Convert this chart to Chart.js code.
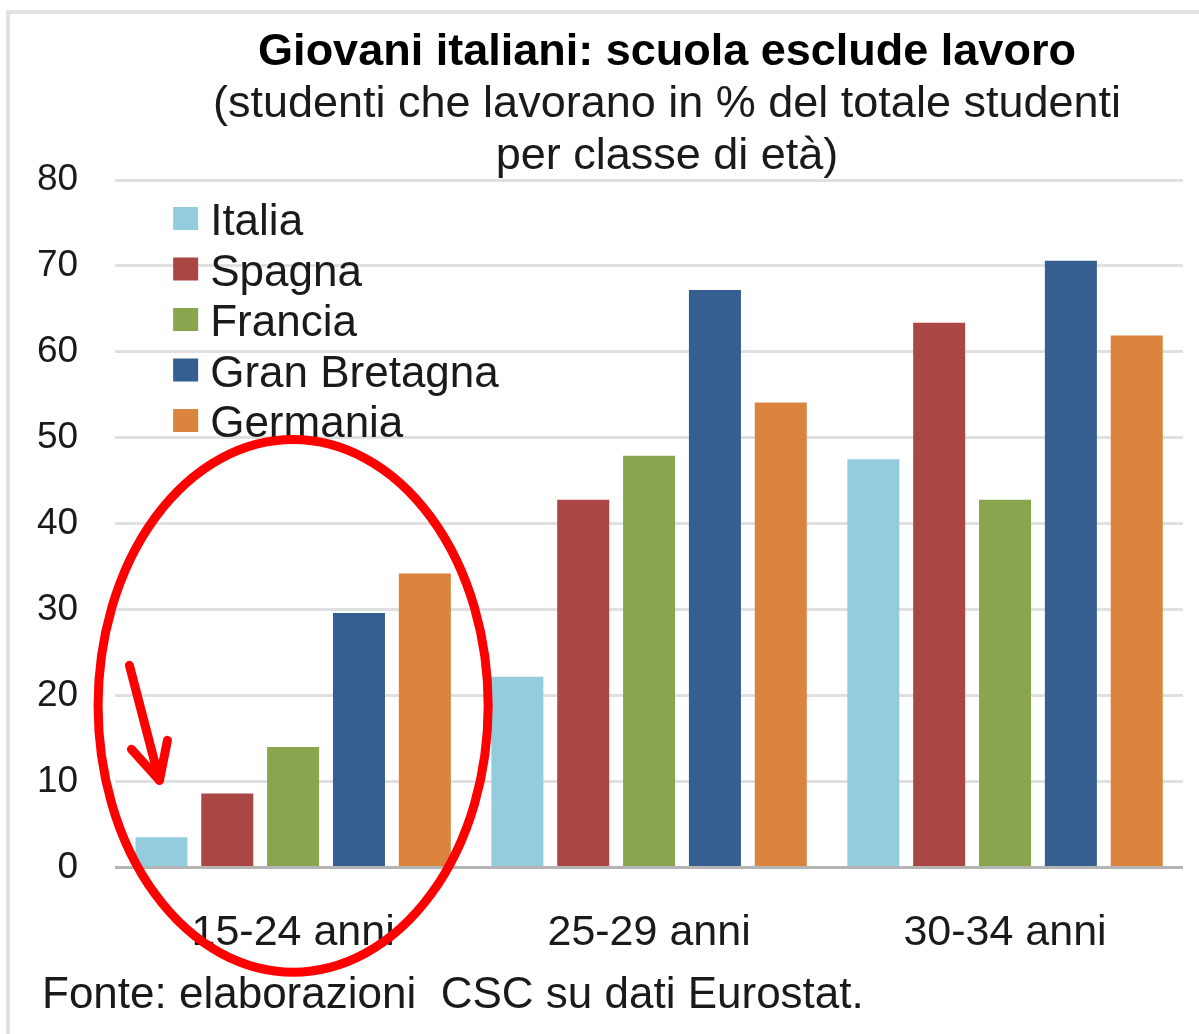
<!DOCTYPE html>
<html>
<head>
<meta charset="utf-8">
<script src="https://cdn.jsdelivr.net/npm/chart.js@4.4.1/dist/chart.umd.min.js"></script>
<style>
  html, body { margin: 0; padding: 0; background: #fff; }
  #wrap { width: 1199px; height: 1034px; }
</style>
</head>
<body>
<div id="wrap"><canvas id="chart" width="1199" height="1034"></canvas></div>
<script>
// data (percent of students who work)
var categories = ["15-24 anni", "25-29 anni", "30-34 anni"];
var seriesNames = ["Italia", "Spagna", "Francia", "Gran Bretagna", "Germania"];
var italia = [3.5, 22.2, 47.5];
var spagna = [8.6, 42.8, 63.4];
var francia = [14.0, 47.9, 42.8];
var granBretagna = [29.6, 67.2, 70.6];
var germania = [34.2, 54.1, 61.9];
var yTicks = [0, 10, 20, 30, 40, 50, 60, 70, 80];

var titleText = "Giovani italiani: scuola esclude lavoro";
var subtitleLines = ["(studenti che lavorano in % del totale studenti", "per classe di età)"];
var sourceText = "Fonte: elaborazioni  CSC su dati Eurostat.";

var colors = ["#93cddd", "#aa4644", "#89a54e", "#365f91", "#db843d"];
var values = [italia, spagna, francia, granBretagna, germania];
var FONT = '"Liberation Sans", Arial, Helvetica, sans-serif';
var TEXT = "#1a1a1a";

Chart.defaults.font.family = FONT;

var decor = {
    id: "decor",
    afterDraw: function (chart) {
        var ctx = chart.ctx;
        var area = chart.chartArea;
        var x = chart.scales.x;
        var y = chart.scales.y;
        ctx.save();

        // thin frame (top and left only)
        ctx.strokeStyle = "#e2e2e2";
        ctx.lineWidth = 4;
        ctx.beginPath();
        ctx.moveTo(8, chart.height);
        ctx.lineTo(8, 12);
        ctx.lineTo(chart.width, 12);
        ctx.stroke();

        // title + subtitle
        var cx = 667;
        ctx.fillStyle = "#000";
        ctx.textAlign = "center";
        ctx.textBaseline = "alphabetic";
        ctx.font = "bold 45px " + FONT;
        ctx.fillText(titleText, cx, 65);
        ctx.fillStyle = TEXT;
        ctx.font = "45px " + FONT;
        subtitleLines.forEach(function (line, i) {
            ctx.fillText(line, cx, 117 + i * 52);
        });

        // legend inside the plot, one item per row
        ctx.textAlign = "left";
        ctx.font = "44px " + FONT;
        chart.data.datasets.forEach(function (ds, i) {
            var base = 235 + i * 50.5;
            ctx.fillStyle = ds.backgroundColor;
            ctx.fillRect(area.left + 58, base - 28, 25, 23);
            ctx.fillStyle = TEXT;
            ctx.fillText(ds.label, area.left + 95, base);
        });

        // source note
        ctx.font = "44px " + FONT;
        ctx.fillText(sourceText, 42, 1008);

        // red ellipse round the first group
        var step = x.getPixelForValue(1) - x.getPixelForValue(0);
        var unit = y.getPixelForValue(0) - y.getPixelForValue(10);
        ctx.strokeStyle = "#ff0000";
        ctx.lineWidth = 9;
        ctx.beginPath();
        ctx.ellipse(x.getPixelForValue(0), y.getPixelForValue(18.8),
            step * 0.548, unit * 3.1, 0, 0, Math.PI * 2);
        ctx.stroke();

        // arrow pointing at the Italia bar
        var bar = chart.getDatasetMeta(0).data[0];
        var tipX = bar.x - 2, tipY = bar.y - 57;
        ctx.lineCap = "round";
        ctx.lineJoin = "round";
        ctx.beginPath();
        ctx.moveTo(tipX - 30, tipY - 115);
        ctx.lineTo(tipX, tipY);
        ctx.stroke();
        ctx.beginPath();
        ctx.moveTo(tipX - 28, tipY - 31);
        ctx.lineTo(tipX, tipY);
        ctx.lineTo(tipX + 8, tipY - 40);
        ctx.stroke();

        ctx.restore();
    }
};

var datasets = seriesNames.map(function (name, i) {
    return {
        label: name,
        data: values[i],
        backgroundColor: colors[i],
        borderWidth: 0,
        barPercentage: 0.79,
        categoryPercentage: 0.925
    };
});

new Chart(document.getElementById("chart").getContext("2d"), {
    type: "bar",
    data: { labels: categories, datasets: datasets },
    options: {
        responsive: false,
        animation: false,
        devicePixelRatio: 1,
        layout: { padding: { left: 0, right: 16, top: 180, bottom: 35 } },
        plugins: {
            legend: { display: false },
            title: { display: false },
            tooltip: { enabled: false }
        },
        scales: {
            x: {
                grid: { display: false, drawTicks: false },
                border: { display: false },
                ticks: { color: TEXT, font: { size: 43 }, padding: 40 }
            },
            y: {
                min: 0,
                max: 80,
                afterBuildTicks: function (axis) {
                    axis.ticks = yTicks.map(function (v) { return { value: v }; });
                },
                grid: {
                    drawTicks: false,
                    lineWidth: 3,
                    color: function (c) { return c.tick && c.tick.value === 0 ? "#b4b4b4" : "#e0e0e0"; }
                },
                border: { display: false },
                ticks: { color: TEXT, font: { size: 37 }, padding: 37 }
            }
        }
    },
    plugins: [decor]
});
</script>
</body>
</html>
